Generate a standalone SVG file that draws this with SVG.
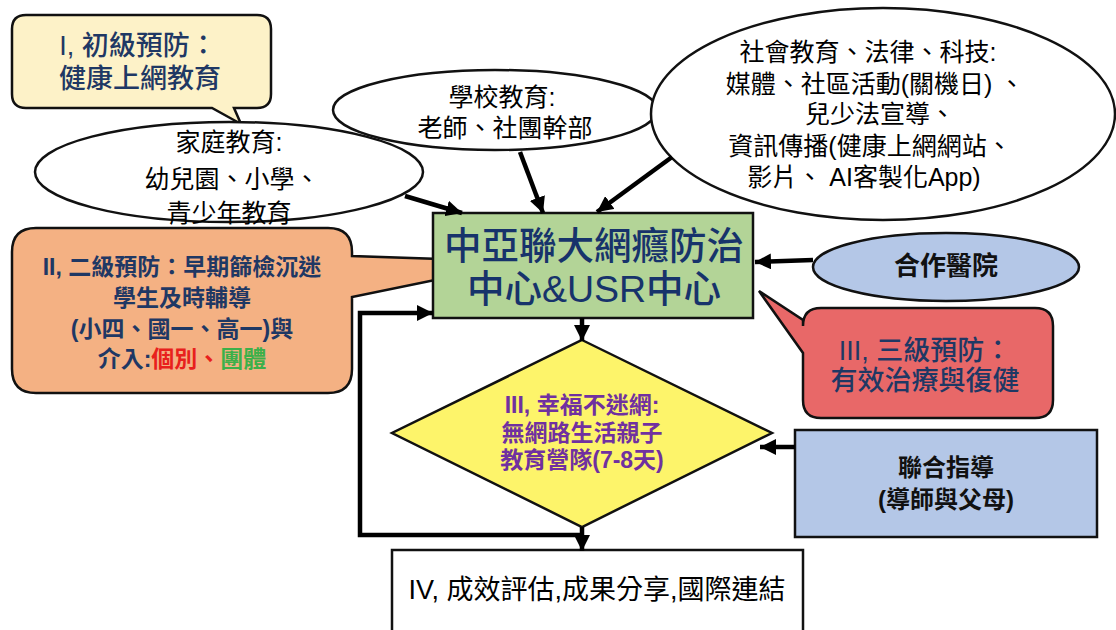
<svg xmlns="http://www.w3.org/2000/svg" width="1116" height="630" viewBox="0 0 1116 630">
<defs>
<marker id="ah" markerUnits="userSpaceOnUse" markerWidth="18" markerHeight="16" refX="16" refY="8" orient="auto">
<path d="M0,0 L16,8 L0,16 Z" fill="#000"/>
</marker>
<style>
text{font-family:"Liberation Sans","Noto Sans CJK TC","Noto Sans CJK SC",sans-serif;text-anchor:middle;dominant-baseline:central}
.sh{stroke:#111;stroke-width:2.5}
.el{fill:#fff}
.t{fill:#000;font-size:25px}
.nv{fill:#1f3864;font-weight:500}
.nb{fill:#1f3864;font-weight:700;font-size:23px}
.cn{stroke:#000;stroke-width:4.5;fill:none}
.cm{marker-end:url(#ah)}
</style>
</defs>
<rect width="1116" height="630" fill="#fff"/>

<g id="callout-1">
<path class="sh" fill="#fdf2c8" d="M26,15 H257 Q271,15 271,29 V94 Q271,108 257,108 H234 L241,124 L212,108 H26 Q12,108 12,94 V29 Q12,15 26,15 Z"/>
<text class="nv" x="138" y="46" font-size="27">I, 初級預防：</text>
<text class="nv" x="140" y="79" font-size="27">健康上網教育</text>
</g>

<g id="family">
<ellipse class="sh el" cx="229" cy="172" rx="194" ry="50"/>
<text class="t" x="229" y="142">家庭教育:</text>
<text class="t" x="232" y="179">幼兒園、小學、</text>
<text class="t" x="229" y="213">青少年教育</text>
</g>

<g id="school">
<ellipse class="sh el" cx="495" cy="110" rx="162" ry="40"/>
<text class="t" x="502" y="97" font-size="26">學校教育:</text>
<text class="t" x="505" y="128" font-size="26">老師、社團幹部</text>
</g>

<g id="society">
<ellipse class="sh el" cx="883" cy="114" rx="232" ry="106"/>
<text class="t" x="868" y="52" font-size="24.5">社會教育、法律、科技:</text>
<text class="t" x="875" y="84" font-size="24.5">媒體、社區活動(關機日) 、</text>
<text class="t" x="880" y="114" font-size="24.5">兒少法宣導、</text>
<text class="t" x="870" y="146" font-size="24.5">資訊傳播(健康上網網站、</text>
<text class="t" x="864" y="177" font-size="24.5">影片、 AI客製化App)</text>
</g>

<g id="callout-2">
<path class="sh" fill="#f4b183" d="M36,228 H328 Q352,228 352,252 V256 L440,259 L440,279 L352,297 V369 Q352,393 328,393 H36 Q12,393 12,369 V252 Q12,228 36,228 Z"/>
<text class="nb" x="182" y="267">II, 二級預防：早期篩檢沉迷</text>
<text class="nb" x="182" y="298">學生及時輔導</text>
<text class="nb" x="182" y="329">(小四、國一、高一)與</text>
<text class="nb" x="182" y="359"><tspan>介入:</tspan><tspan fill="#e8201c">個別、</tspan><tspan fill="#3cb04a">團體</tspan></text>
</g>

<g id="center">
<rect class="sh" x="433" y="213" width="320" height="105" fill="#b3d497"/>
<text x="594" y="246" font-size="37.5" fill="#17336b" font-weight="500">中亞聯大網癮防治</text>
<text x="594" y="289" font-size="37.5" fill="#17336b" font-weight="500">中心&amp;USR中心</text>
</g>

<g id="hospital">
<ellipse class="sh" cx="946" cy="267" rx="133" ry="34" fill="#b4c7e7"/>
<text x="946" y="266" font-size="26" font-weight="700" fill="#111">合作醫院</text>
</g>

<g id="callout-3">
<path class="sh" fill="#e86868" d="M821,308 H1035 Q1053,308 1053,326 V400 Q1053,418 1035,418 H821 Q803,418 803,400 V353 L759,291 L803,320 V326 Q803,308 821,308 Z"/>
<text class="nv" x="925" y="351" font-size="27">III, 三級預防：</text>
<text class="nv" x="925" y="381" font-size="27">有效治療與復健</text>
</g>

<g id="camp">
<polygon class="sh" fill="#fdf46a" points="582,340 772,433 582,527 392,433"/>
<text x="582" y="405" font-size="23" font-weight="700" fill="#7030a0">III, 幸福不迷網:</text>
<text x="582" y="433" font-size="23" font-weight="700" fill="#7030a0">無網路生活親子</text>
<text x="582" y="460" font-size="23" font-weight="700" fill="#7030a0">教育營隊(7-8天)</text>
</g>

<g id="guidance">
<rect class="sh" x="795" y="430" width="302" height="107" fill="#b4c7e7"/>
<text x="946" y="467" font-size="24" font-weight="700" fill="#111">聯合指導</text>
<text x="946" y="499" font-size="24" font-weight="700" fill="#111">(導師與父母)</text>
</g>

<g id="evaluation">
<rect class="sh" x="392" y="550" width="411" height="90" fill="#fff"/>
<text x="597" y="590" font-size="27" fill="#000">IV, 成效評估,成果分享,國際連結</text>
</g>

<g id="connectors">
<line class="cn cm" x1="405" y1="196" x2="462" y2="213"/>
<line class="cn cm" x1="520" y1="152" x2="543" y2="213"/>
<line class="cn cm" x1="672" y1="157" x2="597" y2="212"/>
<line class="cn cm" x1="813" y1="260" x2="755" y2="262"/>
<line class="cn cm" x1="582" y1="318" x2="582" y2="341"/>
<line class="cn cm" x1="582" y1="527" x2="582" y2="551"/>
<polyline class="cn cm" points="582,535 360,535 360,313 433,313"/>
<line class="cn cm" x1="795" y1="447" x2="760" y2="447"/>
</g>
</svg>
